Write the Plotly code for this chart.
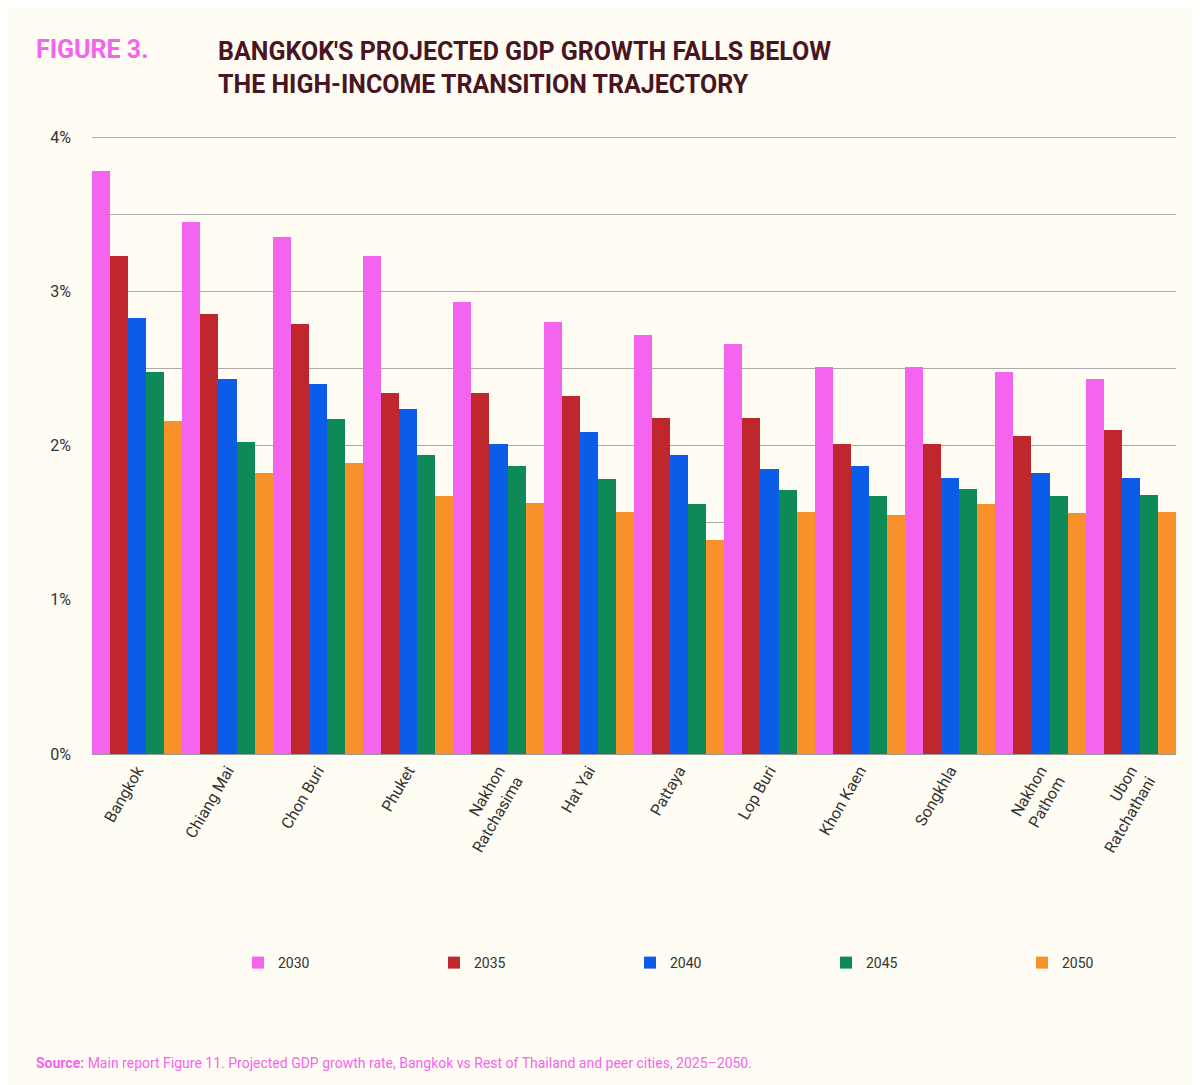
import plotly.graph_objects as go

cities = ["Bangkok", "Chiang Mai", "Chon Buri", "Phuket", "Nakhon<br>Ratchasima", "Hat Yai",
          "Pattaya", "Lop Buri", "Khon Kaen", "Songkhla", "Nakhon<br>Pathom", "Ubon<br>Ratchathani"]
years = ["2030", "2035", "2040", "2045", "2050"]
g2030 = [3.78, 3.45, 3.35, 3.23, 2.93, 2.80, 2.72, 2.66, 2.51, 2.51, 2.48, 2.43]
g2035 = [3.23, 2.85, 2.79, 2.34, 2.34, 2.32, 2.18, 2.18, 2.01, 2.01, 2.06, 2.10]
g2040 = [2.83, 2.43, 2.40, 2.24, 2.01, 2.09, 1.94, 1.85, 1.87, 1.79, 1.82, 1.79]
g2045 = [2.48, 2.02, 2.17, 1.94, 1.87, 1.78, 1.62, 1.71, 1.67, 1.72, 1.67, 1.68]
g2050 = [2.16, 1.82, 1.89, 1.67, 1.63, 1.57, 1.39, 1.57, 1.55, 1.62, 1.56, 1.57]
tick_vals = [0, 0.5, 1, 1.5, 2, 2.5, 3, 3.5, 4]
tick_text = ["0%", "", "1%", "", "2%", "", "3%", "", "4%"]

colors = ["#f564ef", "#c0272d", "#0b5ce8", "#0e8a57", "#f7922a"]
series = [g2030, g2035, g2040, g2045, g2050]

fig = go.Figure()
for name, vals, c in zip(years, series, colors):
    fig.add_trace(go.Bar(x=cities, y=vals, name=name, marker=dict(color=c, line_width=0)))

pw, ph = 1200 - 84 - 32, 1085 - 126 - 339
def px(x): return (x - 84) / pw
def py(y): return (1085 - 339 - y) / ph

fig.update_layout(
    width=1200, height=1085,
    paper_bgcolor="#fffdf3", plot_bgcolor="#fffdf3",
    font=dict(family="Roboto, sans-serif", color="#333"),
    barmode="group", bargap=0.0, bargroupgap=0.0,
    margin=dict(l=84, r=32, t=126, b=339, autoexpand=False),
    showlegend=True,
    legend=dict(orientation="h", x=px(230), xanchor="left", y=py(955), yanchor="middle",
                font=dict(size=14, color="#333"), entrywidth=151, entrywidthmode="pixels",
                itemwidth=30, bgcolor="rgba(0,0,0,0)"),
)
fig.add_annotation(text="<b>FIGURE 3.</b>", x=px(26), y=py(42), xref="paper", yref="paper",
                   xanchor="left", yanchor="middle", showarrow=False,
                   font=dict(size=25, color="#f564ef"))
fig.add_annotation(text="<b>BANGKOK'S PROJECTED GDP GROWTH FALLS BELOW<br>THE HIGH-INCOME TRANSITION TRAJECTORY</b>",
                   x=px(208), y=py(60), xref="paper", yref="paper", xanchor="left", yanchor="middle",
                   align="left", showarrow=False, font=dict(size=25, color="#4a1522"))
fig.add_annotation(text="<b><span style='color:#f564ef'>Source:</span></b> Main report Figure 11. Projected GDP growth rate, Bangkok vs Rest of Thailand and peer cities, 2025–2050.",
                   x=px(26), y=py(1055), xref="paper", yref="paper", xanchor="left", yanchor="middle",
                   showarrow=False, font=dict(size=14, color="#f564ef"))
fig.update_xaxes(tickangle=-60, tickfont=dict(size=16, color="#333"), showline=True,
                 linecolor="#999", linewidth=1, ticks="")
fig.update_yaxes(range=[0, 4.02], tickvals=tick_vals, ticktext=tick_text, showgrid=True,
                 gridcolor="#aaa", gridwidth=1, zeroline=False, ticks="",
                 tickfont=dict(size=16, color="#333"), ticklabelstandoff=20)
fig.write_html("out.html")
